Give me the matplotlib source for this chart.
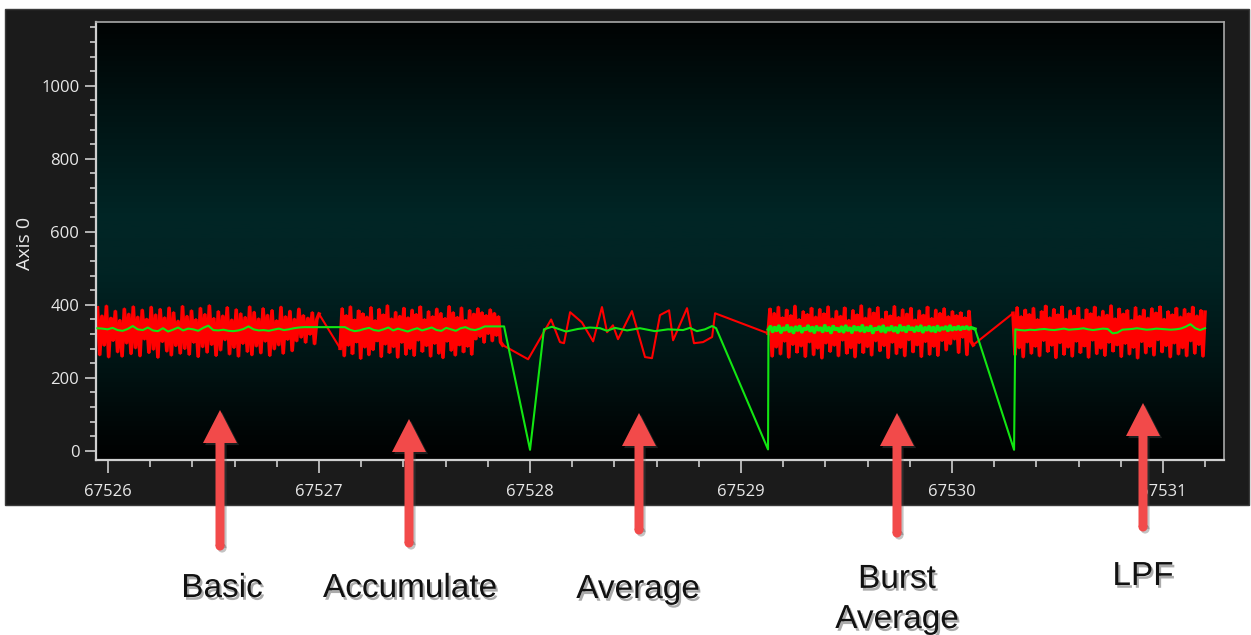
import numpy as np
import matplotlib
matplotlib.use('Agg')
import matplotlib.pyplot as plt
import matplotlib.patheffects as pe
from matplotlib.colors import LinearSegmentedColormap
from matplotlib.patches import FancyArrow, Circle, Rectangle
from matplotlib.ticker import MultipleLocator, FormatStrFormatter

# --- raw trace (red) per acquisition mode ---
basic_span = (67525.95, 67527.00)
basic_red = [
    392, 262, 371, 288, 398, 256, 365, 301, 384, 270,
    359, 258, 390, 294, 376, 265, 396, 281, 368, 259,
    387, 305, 362, 268, 395, 277, 374, 255, 389, 298,
    366, 272, 393, 261, 380, 287, 357, 266, 397, 279,
    370, 263, 385, 296, 361, 257, 392, 284, 375, 269,
    399, 290, 364, 260, 383, 275, 371, 303, 394, 264,
    360, 282, 388, 258, 377, 293, 367, 271, 396, 262,
    381, 286, 363, 267, 391, 299, 373, 260, 386, 278,
    358, 289, 395, 266, 369, 304, 384, 273, 362, 300,
    390, 310, 372, 296, 365, 318, 380, 292, 360, 375,
]

accum_span = (67527.10, 67527.87)
accum_red = [
    281, 391, 259, 372, 288, 396, 265, 360, 297, 385,
    252, 377, 283, 368, 262, 394, 276, 358, 300, 389,
    257, 374, 291, 399, 268, 363, 284, 381, 255, 370,
    296, 392, 263, 366, 279, 387, 260, 375, 302, 396,
    271, 361, 287, 383, 258, 369, 293, 390, 266, 378,
    254, 364, 299, 397, 274, 380, 261, 367, 289, 393,
    270, 359, 285, 386, 263, 376, 305, 391, 312, 380,
    296, 372, 320, 388, 300, 378, 315, 369, 298, 290,
]

avg_red_t = [67527.991, 67528.100, 67528.142, 67528.161, 67528.190, 67528.246,
             67528.299, 67528.341, 67528.365, 67528.393, 67528.417, 67528.483,
             67528.545, 67528.578, 67528.616, 67528.659, 67528.678, 67528.744,
             67528.777, 67528.820, 67528.863, 67528.877]
avg_red = [251, 360, 298, 295, 380, 352,
           300, 394, 325, 344, 306, 383,
           257, 254, 372, 385, 303, 391,
           295, 298, 312, 377]

burst_span = (67529.128, 67530.10)
burst_red = [
    322, 390, 258, 378, 283, 395, 264, 366, 299, 387,
    255, 372, 290, 398, 269, 361, 286, 383, 257, 375,
    297, 392, 262, 368, 280, 389, 253, 377, 294, 396,
    271, 363, 288, 384, 259, 370, 302, 393, 266, 359,
    281, 386, 256, 374, 295, 399, 268, 365, 284, 390,
    261, 379, 300, 394, 273, 362, 287, 382, 254, 371,
    296, 397, 265, 367, 282, 388, 259, 376, 303, 392,
    270, 360, 289, 385, 257, 373, 298, 395, 263, 364,
    285, 387, 260, 378, 301, 391, 275, 369, 292, 383,
    305, 372, 268, 380, 310, 366, 262, 384, 300, 290,
]

lpf_span = (67530.289, 67531.199)
lpf_red = [
    377, 262, 394, 281, 369, 256, 387, 297, 375, 266,
    392, 285, 361, 259, 383, 301, 398, 271, 366, 288,
    389, 254, 374, 295, 396, 263, 362, 283, 385, 258,
    371, 299, 393, 268, 360, 286, 388, 255, 377, 302,
    395, 265, 368, 280, 384, 260, 373, 296, 399, 272,
    363, 289, 390, 257, 376, 293, 386, 264, 359, 282,
    394, 253, 370, 298, 387, 267, 365, 285, 391, 261,
    379, 303, 396, 270, 362, 287, 383, 256, 374, 294,
    392, 264, 368, 281, 389, 259, 377, 300, 395, 266,
    371, 290, 386, 258, 380,
]

# --- filtered trace (green) ---
basic_green = [336, 335, 333, 337, 331, 329, 334, 342, 333, 331,
               338, 330, 328, 336, 327, 332, 338, 330, 335, 333,
               329, 337, 343, 331, 330, 332, 329, 328, 330, 334,
               341, 333, 330, 331, 329, 332, 335, 331, 333, 336,
               338, 339, 339, 339, 339]

accum_green_span = (67527.10, 67527.877)
accum_green = [339, 339, 332, 328, 330, 334, 337, 331, 329, 333,
               338, 330, 335, 331, 327, 332, 336, 330, 334, 338,
               331, 329, 337, 333, 329, 336, 339, 333, 331, 335,
               341, 341, 341, 341, 341]

avg_green_t = [67528.000, 67528.066, 67528.104, 67528.171, 67528.227, 67528.284,
               67528.332, 67528.365, 67528.403, 67528.460, 67528.521, 67528.592,
               67528.654, 67528.725, 67528.758, 67528.791, 67528.829, 67528.863,
               67528.882, 67529.128]
avg_green = [3, 333, 340, 327, 334, 338,
             336, 329, 337, 330, 336, 328,
             333, 331, 337, 328, 333, 342,
             336, 4]

burst_green_span = (67529.13, 67530.109)
burst_green = [
    333, 342, 325, 340, 328, 344, 323, 338, 330, 345,
    326, 339, 322, 341, 329, 343, 324, 337, 331, 344,
    327, 340, 323, 342, 330, 338, 325, 345, 328, 339,
    322, 343, 331, 337, 326, 341, 324, 344, 329, 338,
    323, 342, 330, 340, 327, 345, 325, 339, 328, 343,
    322, 337, 331, 341, 326, 344, 324, 338, 330, 342,
    327, 339, 323, 345, 329, 340, 325, 343, 331, 338,
    326, 341, 328, 344, 324, 339, 330, 342, 327, 340,
    325, 343, 329, 338, 333, 341, 328, 344, 330, 339,
    332, 342, 331, 340, 334, 341, 333, 338, 336, 334,
]

drop_t = [67530.294]
drop_green = [3]

lpf_green_span = (67530.30, 67531.199)
lpf_green = [333, 331, 330, 332, 331, 333, 334, 332, 331, 333,
             335, 332, 333, 334, 336, 333, 331, 333, 335, 334,
             322, 324, 332, 333, 334, 336, 334, 332, 333, 335,
             334, 333, 332, 333, 335, 340, 347, 336, 331, 336]

# annotations below the plot
mode_labels = ['Basic', 'Accumulate', 'Average', 'Burst\nAverage', 'LPF']


def span_times(span, values):
    return np.linspace(span[0], span[1], len(values))


dense_red = [(basic_span, basic_red), (accum_span, accum_red),
             (burst_span, burst_red), (lpf_span, lpf_red)]

red_t = np.concatenate([span_times(basic_span, basic_red),
                        span_times(accum_span, accum_red),
                        avg_red_t,
                        span_times(burst_span, burst_red),
                        span_times(lpf_span, lpf_red)])
red_v = np.concatenate([basic_red, accum_red, avg_red, burst_red, lpf_red])

green_t = np.concatenate([span_times(basic_span, basic_green),
                          span_times(accum_green_span, accum_green),
                          avg_green_t,
                          span_times(burst_green_span, burst_green),
                          drop_t,
                          span_times(lpf_green_span, lpf_green)])
green_v = np.concatenate([basic_green, accum_green, avg_green, burst_green,
                          drop_green, lpf_green])

W, H = 1251, 635
fig = plt.figure(figsize=(W / 100, H / 100), dpi=100)
fig.patch.set_facecolor('white')

# dark instrument panel behind the plot
fig.patches.append(Rectangle((5 / W, 1 - 505 / H), 1244 / W, 496 / H,
                             transform=fig.transFigure, facecolor='#1b1b1b',
                             edgecolor='#3a3a3a', lw=1.0, zorder=-5))

ax = fig.add_axes([96 / W, 1 - 460 / H, 1128 / W, 438 / H], zorder=1)
ax.set_facecolor('black')

grad = LinearSegmentedColormap.from_list(
    'panel', [(0.0, '#000303'), (0.2, '#001313'), (0.45, '#012626'),
              (0.58, '#012323'), (0.78, '#001414'), (1.0, '#000000')])
ax.imshow(np.linspace(0, 1, 256).reshape(-1, 1), cmap=grad, aspect='auto',
          extent=[0, 1, 0, 1], transform=ax.transAxes, origin='upper',
          zorder=0, interpolation='bicubic')

red = '#ff0000'
green = '#12e612'
ax.plot(red_t, red_v, color=red, lw=1.5, zorder=2)
# the densely sampled stretches render as a solid band
for span, vals in dense_red:
    ax.plot(span_times(span, vals), vals, color=red, lw=2.6, zorder=2,
            solid_joinstyle='bevel')
ax.plot(green_t, green_v, color=green, lw=1.5, zorder=3)
ax.plot(span_times(burst_green_span, burst_green), burst_green, color=green,
        lw=2.4, zorder=3, solid_joinstyle='bevel')

ax.set_xlim(67525.943, 67531.289)
ax.set_ylim(-25, 1175)
ax.xaxis.set_major_locator(MultipleLocator(1))
ax.xaxis.set_minor_locator(MultipleLocator(0.2))
ax.xaxis.set_major_formatter(FormatStrFormatter('%d'))
ax.yaxis.set_major_locator(MultipleLocator(200))
ax.yaxis.set_minor_locator(MultipleLocator(40))

tick_font = 'Open Sans'
ax.tick_params(axis='both', which='both', direction='out', colors='#cfcfcf',
               labelcolor='#e8e8e8', width=1.2)
ax.tick_params(axis='y', which='major', length=8, pad=4)
ax.tick_params(axis='y', which='minor', length=4)
ax.tick_params(axis='x', which='major', length=9, pad=8)
ax.tick_params(axis='x', which='minor', length=5)
for lab in ax.get_xticklabels() + ax.get_yticklabels():
    lab.set_fontfamily(tick_font)
    lab.set_fontsize(12)

for side in ('left', 'bottom'):
    ax.spines[side].set_color('#cfcfcf')
    ax.spines[side].set_linewidth(1.6)
for side in ('top', 'right'):
    ax.spines[side].set_color('#a8a8a8')
    ax.spines[side].set_linewidth(1.2)

fig.text(25 / W, 1 - 243 / H, 'Axis 0', rotation=90, ha='center', va='center',
         color='#e8e8e8', fontsize=14, fontfamily=tick_font)

# overlay in pixel units for the call-out arrows and captions
ov = fig.add_axes([0, 0, 1, 1], zorder=5)
ov.set_xlim(0, W)
ov.set_ylim(H, 0)
ov.axis('off')
ov.patch.set_alpha(0)

arrow_x = [220, 409, 639, 897, 1143]
arrow_tip = [410, 419, 413, 413, 403]
arrow_end = [546, 543, 530, 533, 527]
label_x = [222, 410, 638, 897, 1143]
label_base = [597, 597, 598, 628, 585]

arrow_color = '#f24a4a'
shadow = [pe.SimplePatchShadow(offset=(1.5, -1.5), shadow_rgbFace='#555555', alpha=0.35),
          pe.Normal()]
for x, tip, end in zip(arrow_x, arrow_tip, arrow_end):
    arr = FancyArrow(x, end, 0, tip - end, width=9, head_width=34, head_length=33,
                     length_includes_head=True, color=arrow_color, lw=0)
    arr.set_path_effects(shadow)
    ov.add_patch(arr)
    cap = Circle((x, end), 4.5, color=arrow_color, lw=0)
    cap.set_path_effects(shadow)
    ov.add_patch(cap)

text_shadow = [pe.SimplePatchShadow(offset=(1.5, -2), shadow_rgbFace='#666666', alpha=0.55),
               pe.Normal()]
for text, x, base in zip(mode_labels, label_x, label_base):
    ov.text(x, base, text, ha='center', va='baseline', fontsize=24,
            fontfamily='Liberation Sans', color='#111111', linespacing=1.38,
            path_effects=text_shadow)

fig.savefig('out.png', dpi=100, facecolor=fig.get_facecolor())
